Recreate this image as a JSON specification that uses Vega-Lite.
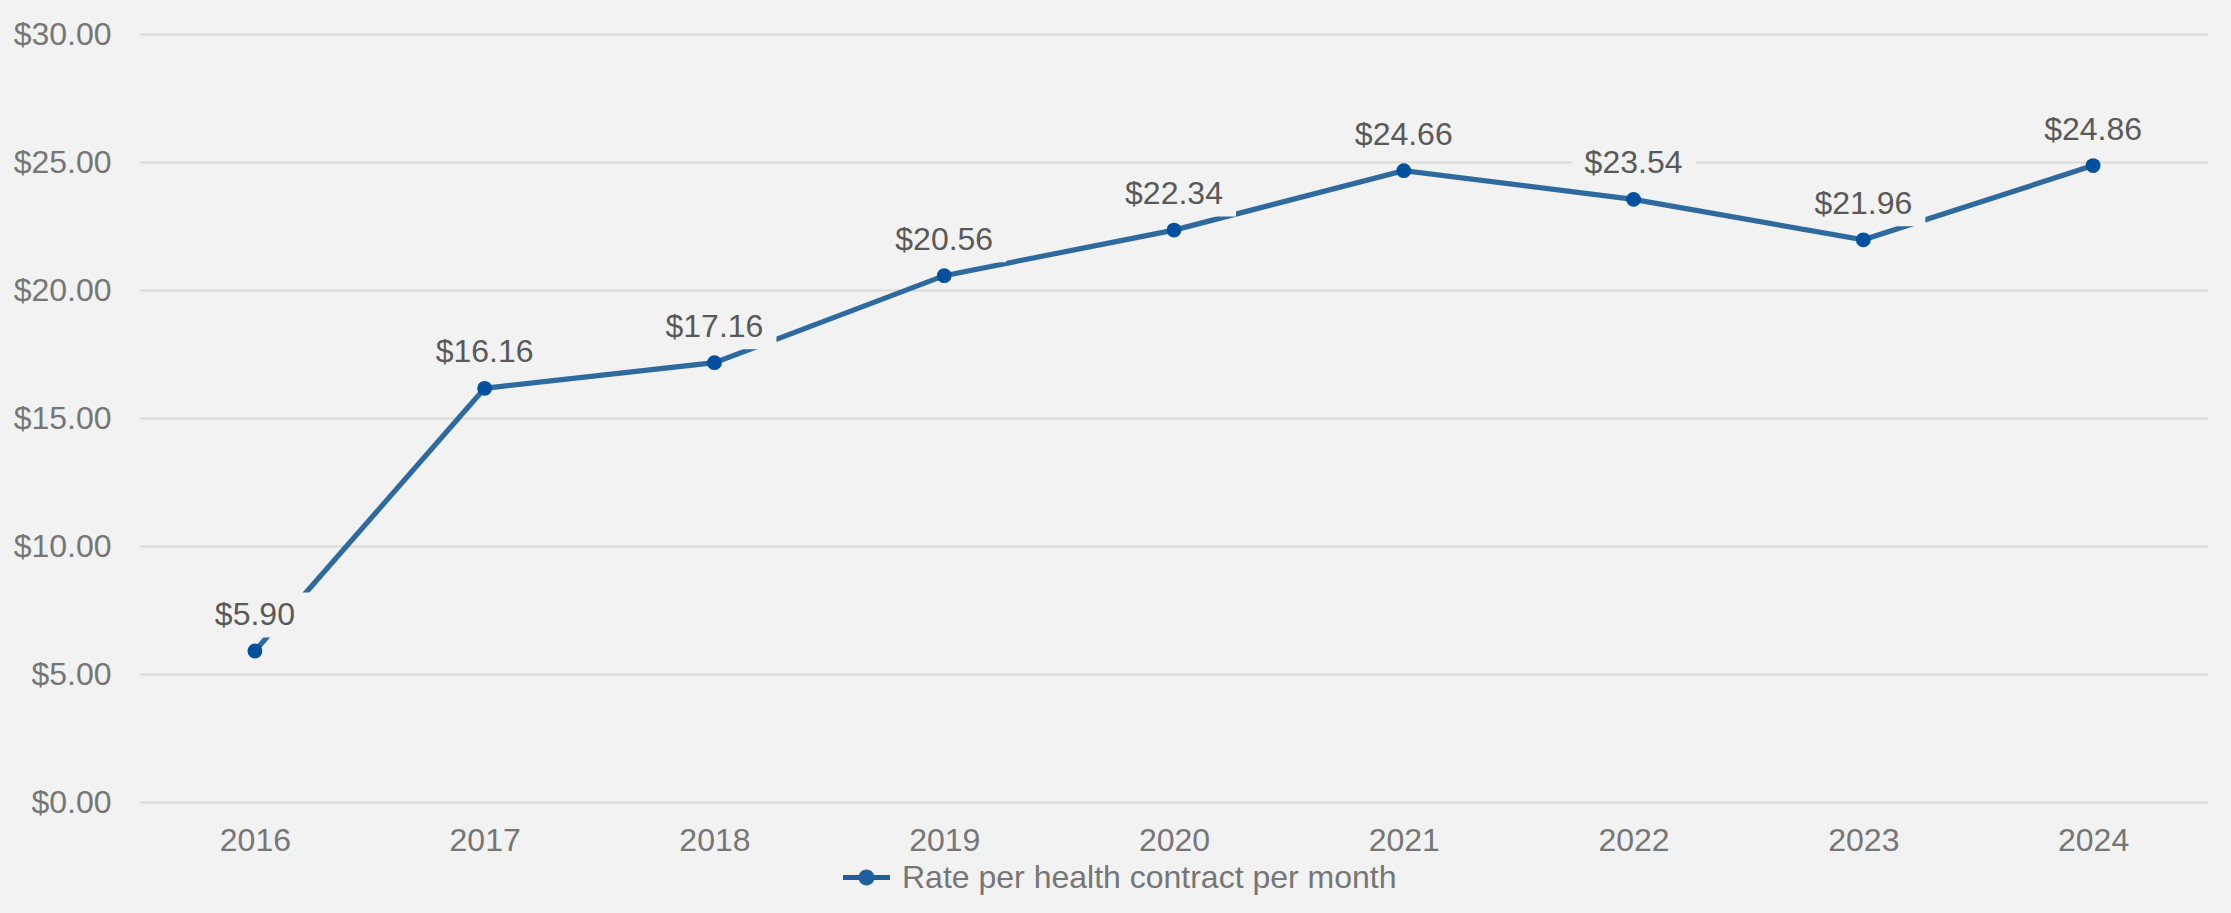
{
  "$schema": "https://vega.github.io/schema/vega-lite/v6.json",
  "width": 2068,
  "height": 768,
  "autosize": {"type": "none"},
  "padding": {"left": 140, "top": 34, "right": 23, "bottom": 111},
  "background": "#F2F2F2",
  "config": {"view": {"stroke": null}, "font": "Liberation Sans"},
  "data": {
    "values": [
      {"year": "2016", "rate": 5.90},
      {"year": "2017", "rate": 16.16},
      {"year": "2018", "rate": 17.16},
      {"year": "2019", "rate": 20.56},
      {"year": "2020", "rate": 22.34},
      {"year": "2021", "rate": 24.66},
      {"year": "2022", "rate": 23.54},
      {"year": "2023", "rate": 21.96},
      {"year": "2024", "rate": 24.86}
    ]
  },
  "encoding": {
    "x": {
      "field": "year", "type": "ordinal", "sort": null,
      "axis": {"title": null, "labelAngle": 0, "domain": false, "ticks": false, "tickSize": 0, "grid": false,
               "labelFontSize": 32, "labelColor": "#767676", "labelPadding": 48, "labelBaseline": "alphabetic"}
    },
    "y": {
      "field": "rate", "type": "quantitative",
      "scale": {"domain": [0, 30], "nice": false},
      "axis": {"title": null, "values": [0, 5, 10, 15, 20, 25, 30], "format": "$.2f", "domain": false, "ticks": false, "tickSize": 0,
               "gridColor": "#D9D9D9", "gridWidth": 2, "labelFontSize": 32, "labelColor": "#767676", "labelPadding": 29}
    }
  },
  "layer": [
    {
      "mark": {"type": "line", "strokeWidth": 5.2},
      "encoding": {
        "color": {
          "datum": "Rate per health contract per month",
          "scale": {"range": ["#2F6A9F"]},
          "legend": {
            "orient": "none", "legendX": 703, "legendY": 820, "title": null, "padding": 0, "labelLimit": 0,
            "symbolType": "M-1,-0.11H1V0.11H-1Z M0.34,0 A0.34,0.34 0 1 1 -0.34,0 A0.34,0.34 0 1 1 0.34,0 Z",
            "symbolSize": 2209, "labelFontSize": 32, "labelColor": "#767676", "labelOffset": 12,
            "encode": {"symbols": {"update": {"fill": {"value": "#1F5E9F"}, "stroke": {"value": "#1F5E9F"}, "strokeWidth": {"value": 0}, "opacity": {"value": 1}}}}
          }
        }
      }
    },
    {
      "mark": {"type": "point", "shape": "M-1,-0.363H1V0.363H-1Z", "size": 15376, "filled": true, "color": "#F2F2F2", "opacity": 1, "strokeWidth": 0, "yOffset": -36}
    },
    {
      "mark": {"type": "circle", "size": 220, "color": "#0050A0", "opacity": 1}
    },
    {
      "mark": {"type": "text", "dy": -36, "fontSize": 32, "color": "#595959", "baseline": "middle", "align": "center"},
      "encoding": {"text": {"field": "rate", "type": "quantitative", "format": "$.2f"}}
    }
  ]
}
